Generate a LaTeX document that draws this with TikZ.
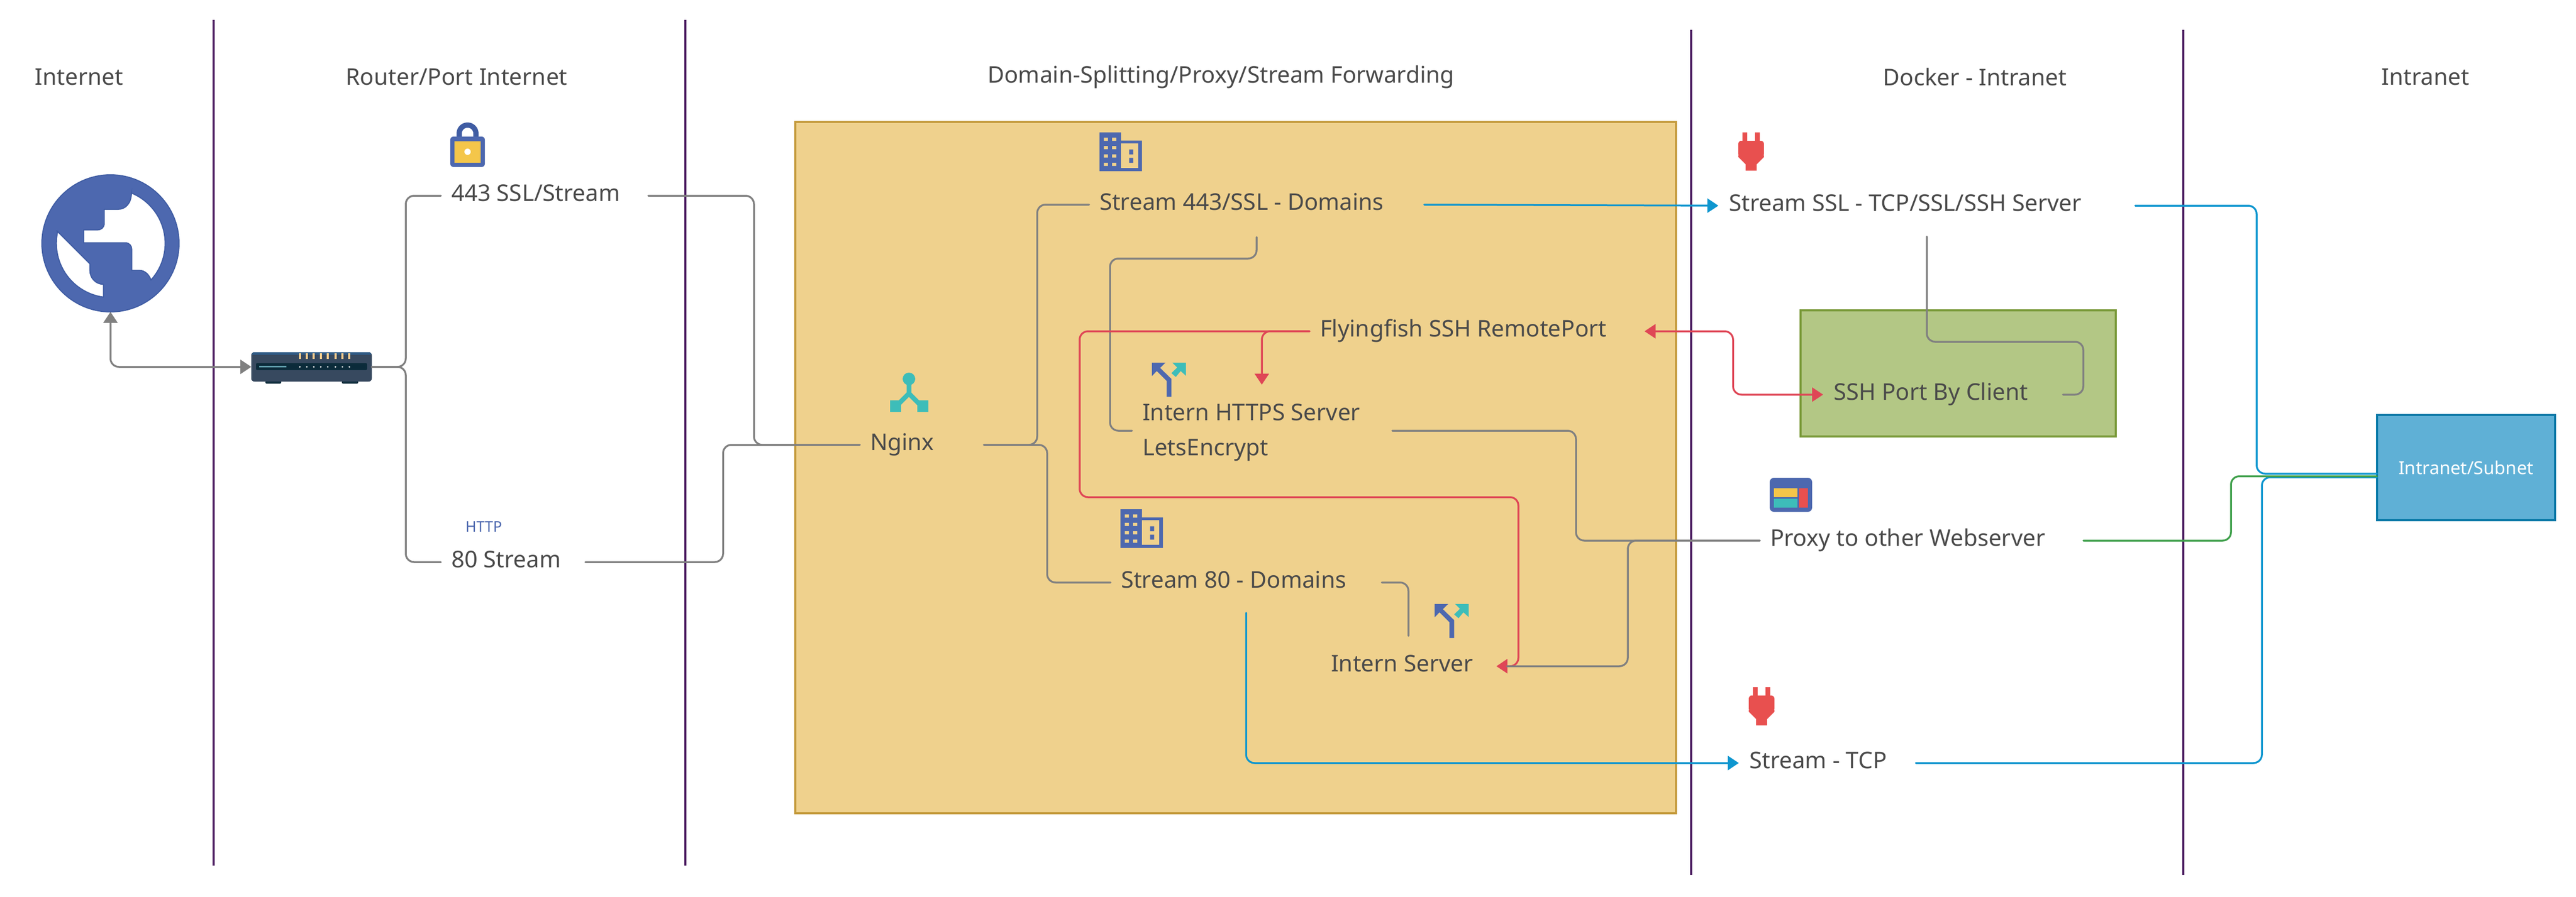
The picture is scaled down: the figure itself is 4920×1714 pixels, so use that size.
\documentclass[tikz,border=0pt]{standalone}
\usepackage{fontspec}
\setmainfont{Noto Sans}
\usetikzlibrary{arrows.meta,calc}
\newdimen\pxu \pxu=0.02cm
\newcommand\lbl[2]{\hbox to \dimexpr#1\pxu-40\pxu\relax{#2\hss}}
\definecolor{txt}{HTML}{4A4A4A}
\definecolor{purp}{HTML}{4B1C60}
\definecolor{greyl}{HTML}{808080}
\definecolor{bluel}{HTML}{0E96CF}
\definecolor{redl}{HTML}{DF4656}
\definecolor{greenl}{HTML}{40A04C}
\definecolor{iconb}{HTML}{4D68AF}
\definecolor{icone}{HTML}{3F5CA3}
\definecolor{teal1}{HTML}{3DBDB9}
\definecolor{plugr}{HTML}{E8504F}
\definecolor{yell}{HTML}{F4C64A}
\definecolor{yellbox}{HTML}{EFD18D}
\definecolor{yelledge}{HTML}{C49A3C}
\definecolor{grnbox}{HTML}{B3C785}
\definecolor{grnedge}{HTML}{7A9A3A}
\definecolor{intrabox}{HTML}{5FB0D6}
\definecolor{intraedge}{HTML}{0A7AA8}
\definecolor{rbody}{HTML}{37495F}
\definecolor{rtop}{HTML}{2F5B85}
\definecolor{rdark}{HTML}{0B2B3A}
\definecolor{rled}{HTML}{F8CE8E}
\definecolor{rbar}{HTML}{62A0AE}
\tikzset{
  bw/.style={minimum width=#1*0.02cm},
  bh/.style={minimum height=#1*0.02cm},
  lab/.style={inner xsep=0.4cm,inner ysep=0pt,outer sep=0pt,text=txt,
    font=\fontsize{25}{30}\selectfont,text height=12.5pt,text depth=0pt},
  head/.style={inner sep=0pt,outer sep=0pt,text=txt,font=\fontsize{25}{30}\selectfont},
  divider/.style={draw=purp,line width=0.07cm},
  conn/.style={line width=0.07cm,rounded corners=0.32cm,line cap=round},
  grey/.style={conn,draw=greyl},
  bluec/.style={conn,draw=bluel},
  redc/.style={conn,draw=redl},
  greenc/.style={conn,draw=greenl},
  tip/.tip={Triangle[length=0.42cm,width=0.54cm]},
}
\newcommand\bldg[2]{\begin{scope}[shift={(#1,#2)}]
  \fill[iconb] (0,0) -- (41,0) -- (41,15.5) -- (81,15.5) -- (81,74) -- (0,74) -- cycle;
  \fill[yellbox] (41,21) rectangle (73.5,68);
  \fill[iconb] (56.6,32.5) rectangle (64.3,42) (56.6,48.5) rectangle (64.3,58);
  \foreach \yy in {10,26,42,58}{
    \fill[yellbox] (8.4,\yy) rectangle +(7.6,6) (24,\yy) rectangle +(8,6);}
\end{scope}}
\newcommand\splitico[2]{\begin{scope}[shift={(#1,#2)}]
  \fill[iconb] (0,0) -- (26,0) -- (15.7,10) -- (37.3,31) -- (37.3,65) -- (28.3,65) -- (28.3,35) -- (9.3,16) -- (0,25.7) -- cycle;
  \fill[teal1] (39,0) -- (65,0) -- (65,25) -- (55,16) -- (45.7,27.3) -- (37.3,20) -- (48.3,9.3) -- cycle;
\end{scope}}
\newcommand\plugico[2]{\begin{scope}[shift={(#1,#2)}]
  \fill[plugr,rounded corners=0.12cm] (8,16) -- (0,16) -- (0,47) -- (49,47) -- (49,16) -- cycle;
  \fill[plugr] (8,0) rectangle (17,20) (32,0) rectangle (41,20);
  \fill[plugr] (0,44) -- (49,44) -- (49,47) -- (35,61) -- (35,73) -- (14,73) -- (14,61) -- (0,47) -- cycle;
\end{scope}}
\begin{document}
\begin{tikzpicture}[x=0.02cm,y=-0.02cm]
\useasboundingbox (0,0) rectangle (4920,1714);
\fill[white] (0,0) rectangle (4920,1714);
% section dividers
\coordinate (d1a) at (408,38); \coordinate (d1b) at (408,1654);
\coordinate (d2a) at (1309,38); \coordinate (d2b) at (1309,1654);
\coordinate (d3a) at (3230,57); \coordinate (d3b) at (3230,1672);
\coordinate (d4a) at (4170,57); \coordinate (d4b) at (4170,1672);
% headers
\node[head] (h1) at (151,147) {Internet};
\node[head] (h2) at (872,147) {Router/Port Internet};
\node[head] (h3) at (2332,147) {Domain-Splitting/Proxy/Stream Forwarding};
\node[head] (h4) at (3772,147) {Docker - Intranet};
\node[head] (h5) at (4632,147) {Intranet};
% containers
\node[draw=yelledge,fill=yellbox,line width=0.08cm,bw=1682,bh=1321,inner sep=0pt,outer sep=0pt] (ybox) at (2360,893.5) {};
\node[draw=grnedge,fill=grnbox,line width=0.08cm,bw=602,bh=241,inner sep=0pt,outer sep=0pt] (gbox) at (3740,713.5) {};
\node[draw=intraedge,fill=intrabox,line width=0.08cm,bw=340,bh=201,inner sep=0pt,outer sep=0pt,text=white,font=\fontsize{19.5}{24}\selectfont] (intra) at (4710,893.5) {Intranet/Subnet};
\draw[divider] (d1a) -- (d1b);
\draw[divider] (d2a) -- (d2b);
\draw[divider] (d3a) -- (d3b);
\draw[divider] (d4a) -- (d4b);
% globe
\node[circle,fill=iconb,draw=icone,line width=0.04cm,minimum size=5.24cm,inner sep=0pt,outer sep=0pt] (globe) at (211,465) {};
\begin{scope}[shift={(50,300)},scale=1/3]
  \filldraw[fill=white,draw=icone,line width=0.04cm] (603,205) .. controls (603,265) and (570,300) .. (525,300) -- (447,300) -- (447,380) .. controls (447,405) and (430,418) .. (408,418) -- (330,418) -- (330,492) -- (570,492) .. controls (592,492) and (605,510) .. (605,530) -- (605,650) -- (650,650) .. controls (680,650) and (705,675) .. (715,705) arc[start angle=42.3,end angle=-67.7,radius=312] -- cycle;
  \filldraw[fill=white,draw=icone,line width=0.04cm] (178,425) -- (365,612) -- (365,650) .. controls (365,695) and (400,730) .. (443,730) -- (443,803) arc[start angle=97.6,end angle=192.9,radius=311] -- cycle;
\end{scope}
% router
\node[fill=rbody,rounded corners=0.12cm,bw=230,bh=56,inner sep=0pt,outer sep=0pt] (router) at (595,701) {};
\fill[rdark,rounded corners=0.04cm] (507,727) rectangle (537,733) (653,727) rectangle (684,733);
\fill[rbody,rounded corners=0.12cm] (480,673) rectangle (710,729);
\fill[rtop,rounded corners=0.08cm] (481,673) rectangle (709,680);
\fill[rbody] (481,678) rectangle (709,680);
\fill[rdark,rounded corners=0.04cm] (489,694) rectangle (701,707);
\fill[rbar] (495,699) rectangle (547,702);
\foreach \xx in {572.7,586,599.3,612.7,626,640.7,654,667.3}{
  \fill[rled] (\xx-2,675) rectangle (\xx+2,686);
  \fill[white] (\xx,701) circle (1.7);}
% lock
\draw[icone,line width=0.2cm,rounded corners=0.32cm] (877,265) -- (877,239) -- (909,239) -- (909,265);
\fill[iconb,rounded corners=0.12cm] (860,261) rectangle (926,319);
\fill[yell] (868,270) rectangle (918,311);
\fill[white] (893,290) circle (6);
% http icon
\node[inner sep=0pt,outer sep=0pt,text=iconb,font=\fontsize{16}{18}\selectfont\bfseries] (http) at (924,1006) {HTTP};
% icons
\bldg{2100}{253}
\bldg{2140}{973}
\splitico{2200}{693}
\splitico{2740}{1154}
\plugico{3320}{253}
\plugico{3340}{1313}
% nginx icon
\draw[teal1,line width=0.18cm] (1736,730) -- (1736,752) -- (1710,778);
\draw[teal1,line width=0.18cm] (1736,752) -- (1762,778);
\fill[teal1] (1736,724) circle (12);
\fill[teal1] (1700,765) rectangle (1721,787) (1752,765) rectangle (1773,787);
% proxy icon
\fill[iconb,rounded corners=0.16cm] (3380,913) rectangle (3461,978);
\fill[yell] (3388,933) rectangle (3433,950);
\fill[teal1] (3388,953) rectangle (3433,970);
\fill[plugr] (3436,933) rectangle (3453,970);
% labels
\node[lab,bh=120] (n443) at (1040,374) {\lbl{396}{443 SSL/Stream}};
\node[lab,bh=120] (n80) at (980,1074) {\lbl{276}{80 Stream}};
\node[lab,bh=120] (nginx) at (1760.5,850) {\lbl{237}{Nginx}};
\node[lab,bh=124] (s443) at (2400,391) {\lbl{640}{Stream 443/SSL - Domains}};
\node[lab,bh=116] (s80) at (2380,1113) {\lbl{518}{Stream 80 - Domains}};
\node[lab,bh=120,text height=53.5pt] (https) at (2410.5,823) {\lbl{497}{\vbox{\baselineskip=37.6pt\hbox{Intern HTTPS Server}\hbox{LetsEncrypt}}}};
\node[lab,bh=116] (intern) at (2690,1273) {\lbl{336}{Intern Server}};
\node[lab,bh=120] (fly) at (2821,633) {\lbl{640}{Flyingfish SSH RemotePort}};
\node[lab,bh=118] (ssl) at (3680,393) {\lbl{796}{Stream SSL - TCP/SSL/SSH Server}};
\node[lab,bh=120] (ssh) at (3711,754) {\lbl{458}{SSH Port By Client}};
\node[lab,bh=120] (proxy) at (3670,1033) {\lbl{618}{Proxy to other Webserver}};
\node[lab,bh=120] (tcp) at (3490,1458) {\lbl{338}{Stream - TCP}};
% connectors
\coordinate (inA) at (4540,905);
\coordinate (inB) at (4540,910);
\coordinate (inC) at (4540,912);
\draw[grey,{tip}-{tip}] (globe.south) |- (router.west);
\draw[grey] (router.east) -| (775,374) -- (n443.west);
\draw[grey] (router.east) -| (775,1074) -- (n80.west);
\draw[grey] (n443.east) -| (1440,850) -- (nginx.west);
\draw[grey] (n80.east) -| (1381,850) -- (nginx.west);
\draw[grey] (nginx.east) -| (1981,391) -- (s443.west);
\draw[grey] (nginx.east) -| (2000,1113) -- (s80.west);
\draw[grey] (s443.south) |- (2120,494) |- (https.west);
\draw[grey] (s80.east) -| (intern.north);
\draw[grey] (https.east) -| (3010,1033) -- (proxy.west);
\draw[redc,-{tip}] (fly.west) -| (2062,950) -| (2900,1273) -- (intern.east);
\draw[redc,-{tip}] (fly.west) -| (2410,735);
\draw[redc,{tip}-{tip}] (fly.east) -| (3310,754) -- (ssh.west);
\draw[grey,shorten >=0.4cm] (proxy.west) -| (3109,1273) -- (intern.east);
\draw[bluec,-{tip}] (s443.east) -- (ssl.west);
\draw[bluec,-{tip}] (s80.south) |- (tcp.west);
\draw[grey] (ssl.south) |- (3979,653) |- (ssh.east);
\draw[bluec] (ssl.east) -| (4310,905) -- (inA);
\draw[bluec] (tcp.east) -| (4320,912) -- (inC);
\draw[greenc] (proxy.east) -| (4261,910) -- (inB);
\end{tikzpicture}
\end{document}
